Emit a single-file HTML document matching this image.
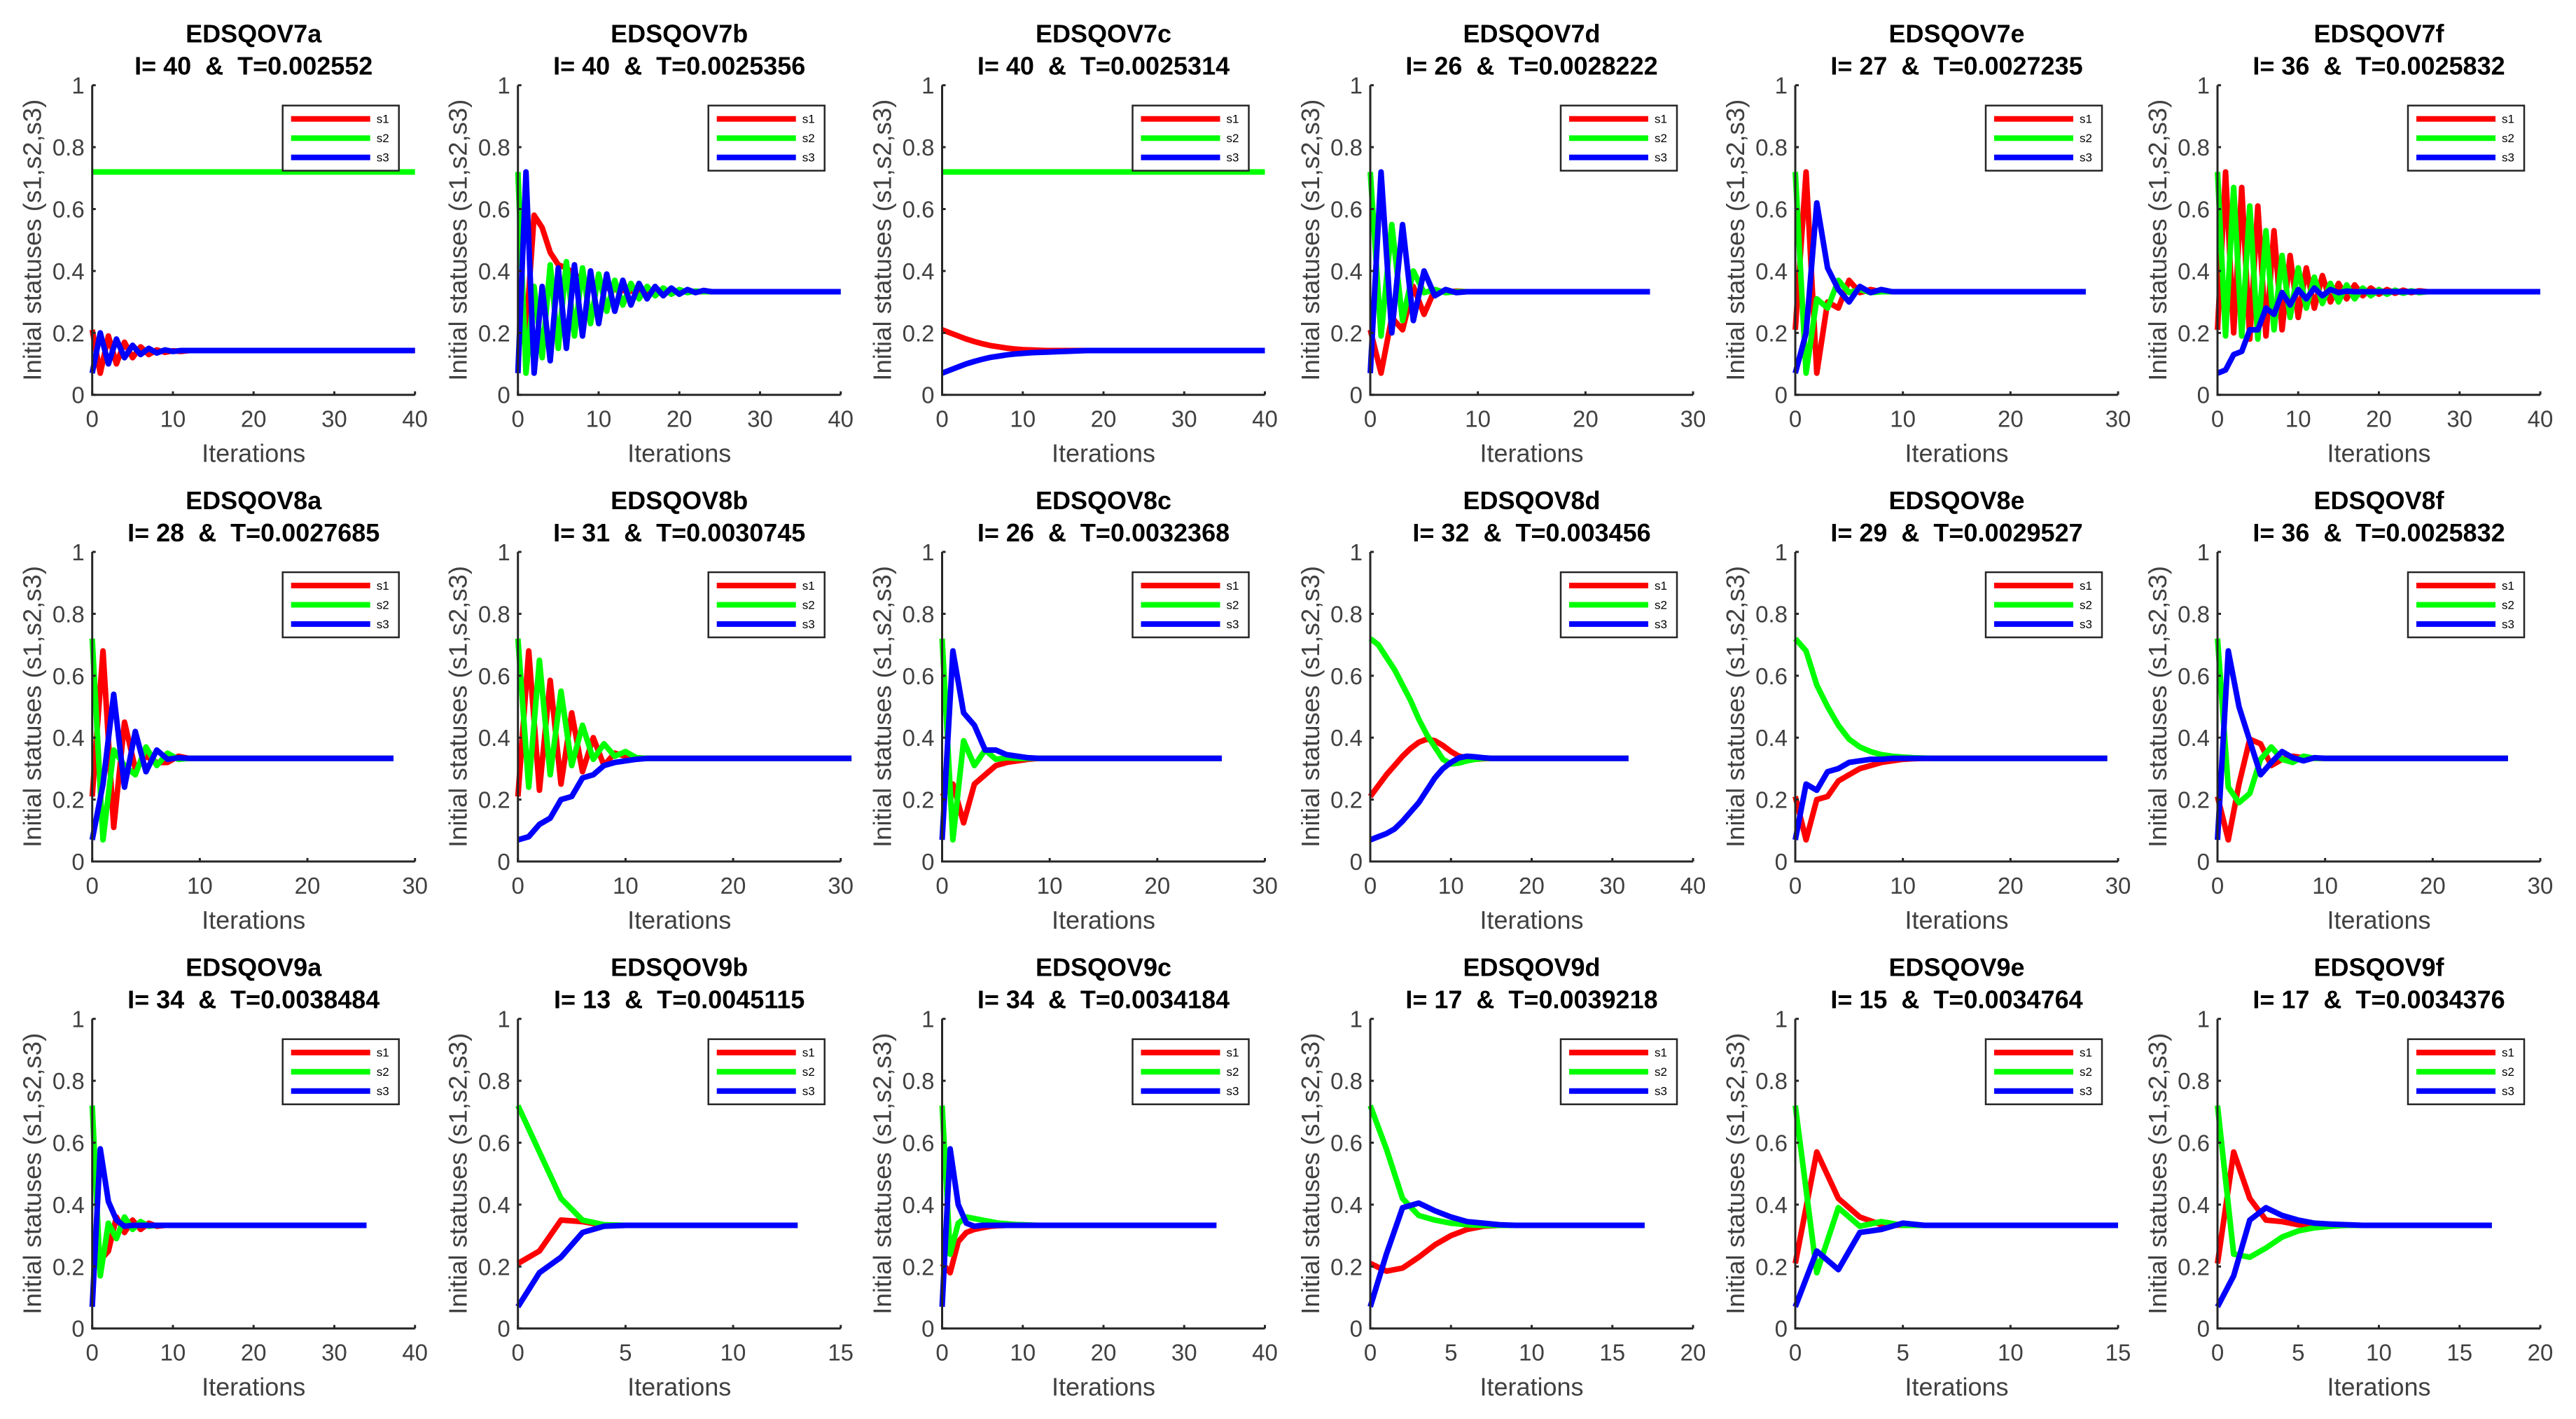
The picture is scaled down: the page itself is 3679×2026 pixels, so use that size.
<!DOCTYPE html>
<html>
<head>
<meta charset="utf-8">
<style>
  html, body { margin: 0; padding: 0; background: #ffffff; }
  svg { display: block; }
  text { font-family: "Liberation Sans", Arial, sans-serif; white-space: pre; }
</style>
</head>
<body>
<svg id="fig" width="3679" height="2026" viewBox="0 0 3679 2026" xmlns="http://www.w3.org/2000/svg">
  <rect x="0" y="0" width="3679" height="2026" fill="#ffffff"/>
</svg>
<script>
// ---- chart data ----
const panelNames = ["EDSQOV7a","EDSQOV7b","EDSQOV7c","EDSQOV7d","EDSQOV7e","EDSQOV7f",
                    "EDSQOV8a","EDSQOV8b","EDSQOV8c","EDSQOV8d","EDSQOV8e","EDSQOV8f",
                    "EDSQOV9a","EDSQOV9b","EDSQOV9c","EDSQOV9d","EDSQOV9e","EDSQOV9f"];
const iterCounts = [40,40,40,26,27,36, 28,31,26,32,29,36, 34,13,34,17,15,17];
const tValues = ["0.002552","0.0025356","0.0025314","0.0028222","0.0027235","0.0025832",
                 "0.0027685","0.0030745","0.0032368","0.003456","0.0029527","0.0025832",
                 "0.0038484","0.0045115","0.0034184","0.0039218","0.0034764","0.0034376"];
const xAxisMax = [40,40,40,30,30,40, 30,30,30,40,30,30, 40,15,40,20,15,20];
const lastIteration = [40,40,40,26,27,40, 28,31,26,32,29,27, 34,13,34,17,15,17];
const yTickLabels = ["0","0.2","0.4","0.6","0.8","1"];
const yTickValues = [0,0.2,0.4,0.6,0.8,1];
const legendLabels = ["s1","s2","s3"];

const s1Series = [
  [0.21,0.07,0.19,0.10,0.17,0.12,0.155,0.13,0.145,0.137,0.142,0.14,0.143],
  [0.21,0.20,0.58,0.54,0.46,0.42,0.41,0.39,0.37,0.36,0.35,0.345,0.34,0.337,0.335,0.334,0.333],
  [0.21,0.20,0.19,0.18,0.172,0.165,0.159,0.155,0.151,0.148,0.146,0.145,0.144,0.143],
  [0.21,0.07,0.25,0.21,0.35,0.26,0.34,0.33,0.335,0.333],
  [0.21,0.72,0.07,0.30,0.28,0.37,0.33,0.34,0.333],
  [0.21,0.72,0.20,0.67,0.18,0.61,0.19,0.53,0.21,0.45,0.25,0.41,0.28,0.385,0.30,0.36,0.31,0.355,0.32,0.345,0.325,0.34,0.328,0.338,0.33,0.336,0.333],
  [0.21,0.68,0.11,0.45,0.30,0.34,0.32,0.32,0.34,0.333],
  [0.21,0.68,0.23,0.585,0.25,0.48,0.29,0.40,0.31,0.35,0.34,0.335,0.333],
  [0.21,0.25,0.125,0.25,0.28,0.31,0.32,0.325,0.33,0.333],
  [0.21,0.245,0.28,0.31,0.34,0.365,0.385,0.395,0.39,0.375,0.355,0.34,0.335,0.33,0.332,0.333],
  [0.21,0.07,0.20,0.21,0.26,0.28,0.30,0.31,0.32,0.325,0.33,0.332,0.333],
  [0.21,0.07,0.25,0.395,0.38,0.31,0.33,0.34,0.335,0.333],
  [0.21,0.22,0.25,0.36,0.31,0.35,0.32,0.34,0.33,0.333],
  [0.21,0.25,0.35,0.345,0.333],
  [0.21,0.18,0.28,0.31,0.32,0.325,0.33,0.332,0.333],
  [0.21,0.185,0.195,0.23,0.27,0.30,0.32,0.33,0.333],
  [0.21,0.57,0.42,0.36,0.335,0.333],
  [0.21,0.57,0.42,0.35,0.345,0.335,0.333]
];
const s2Series = [
  [0.72],
  [0.72,0.07,0.35,0.12,0.42,0.15,0.43,0.19,0.41,0.23,0.39,0.27,0.37,0.29,0.36,0.31,0.35,0.32,0.345,0.325,0.34,0.33,0.335,0.333],
  [0.72],
  [0.72,0.19,0.55,0.24,0.40,0.33,0.34,0.33,0.333],
  [0.72,0.07,0.31,0.28,0.37,0.33,0.34,0.33,0.333],
  [0.72,0.19,0.67,0.19,0.61,0.18,0.53,0.21,0.45,0.25,0.41,0.28,0.38,0.295,0.36,0.30,0.355,0.31,0.345,0.32,0.34,0.325,0.338,0.328,0.336,0.33,0.333],
  [0.72,0.07,0.36,0.31,0.28,0.37,0.31,0.35,0.33,0.333],
  [0.72,0.24,0.65,0.28,0.55,0.31,0.44,0.33,0.38,0.34,0.355,0.335,0.333],
  [0.72,0.07,0.39,0.31,0.36,0.33,0.335,0.333],
  [0.72,0.70,0.66,0.62,0.57,0.52,0.46,0.41,0.37,0.33,0.315,0.318,0.325,0.33,0.333],
  [0.72,0.68,0.57,0.50,0.44,0.395,0.37,0.355,0.345,0.34,0.337,0.335,0.334,0.333],
  [0.72,0.24,0.19,0.22,0.33,0.37,0.33,0.32,0.34,0.333],
  [0.72,0.17,0.34,0.29,0.36,0.32,0.345,0.33,0.333],
  [0.72,0.57,0.42,0.35,0.335,0.333],
  [0.72,0.24,0.34,0.36,0.355,0.35,0.345,0.34,0.338,0.336,0.335,0.334,0.333],
  [0.72,0.58,0.42,0.365,0.35,0.34,0.335,0.333],
  [0.72,0.18,0.39,0.33,0.345,0.333],
  [0.72,0.24,0.23,0.26,0.295,0.315,0.325,0.33,0.333]
];
const s3Series = [
  [0.07,0.20,0.10,0.18,0.12,0.16,0.13,0.15,0.135,0.145,0.14,0.143],
  [0.07,0.72,0.07,0.35,0.11,0.41,0.15,0.42,0.19,0.40,0.23,0.39,0.27,0.37,0.29,0.36,0.31,0.35,0.32,0.345,0.325,0.34,0.33,0.337,0.333],
  [0.07,0.08,0.09,0.10,0.108,0.115,0.121,0.125,0.129,0.132,0.134,0.136,0.137,0.138,0.139,0.14,0.141,0.142,0.143],
  [0.07,0.72,0.20,0.55,0.24,0.40,0.32,0.34,0.33,0.333],
  [0.07,0.20,0.62,0.41,0.34,0.30,0.35,0.33,0.34,0.333],
  [0.07,0.08,0.13,0.14,0.21,0.21,0.28,0.26,0.33,0.29,0.34,0.31,0.345,0.32,0.34,0.33,0.335,0.333],
  [0.07,0.25,0.54,0.24,0.42,0.29,0.36,0.33,0.335,0.333],
  [0.07,0.08,0.12,0.14,0.20,0.21,0.27,0.28,0.31,0.32,0.325,0.33,0.333],
  [0.07,0.68,0.48,0.44,0.36,0.36,0.345,0.34,0.335,0.333],
  [0.07,0.08,0.09,0.105,0.13,0.16,0.19,0.23,0.27,0.30,0.32,0.335,0.34,0.338,0.335,0.333],
  [0.07,0.25,0.23,0.29,0.30,0.32,0.325,0.33,0.33,0.333],
  [0.07,0.68,0.50,0.39,0.28,0.32,0.355,0.335,0.325,0.335,0.333],
  [0.07,0.58,0.41,0.35,0.33,0.333],
  [0.07,0.18,0.23,0.31,0.33,0.333],
  [0.07,0.58,0.40,0.34,0.33,0.333],
  [0.07,0.24,0.39,0.405,0.38,0.36,0.345,0.34,0.335,0.333],
  [0.07,0.25,0.19,0.31,0.32,0.34,0.333],
  [0.07,0.17,0.35,0.39,0.365,0.35,0.34,0.337,0.335,0.333]
];
const seriesColors = ["#ff0000","#00ff00","#0000ff"];

// ---- layout ----
const colLefts = [131.7, 739.7, 1345.5, 1957, 2564, 3167];
const rowTops = [121.7, 788, 1454.7];
const axW = 461, axH = 442;
const NS = "http://www.w3.org/2000/svg";
const svg = document.getElementById("fig");

function mk(tag, attrs, parent) {
  const e = document.createElementNS(NS, tag);
  for (const k in attrs) e.setAttribute(k, attrs[k]);
  (parent || svg).appendChild(e);
  return e;
}

for (let p = 0; p < 18; p++) {
  const L = colLefts[p % 6], T = rowTops[Math.floor(p / 6)];
  const B = T + axH, R = L + axW;
  const xmax = xAxisMax[p];
  const xs = v => L + v / xmax * axW;
  const ys = v => B - v * axH;

  const g = mk("g", {});
  
  

  const t1 = mk("text", {x: L + axW/2, y: T - 61, "text-anchor": "middle", "font-size": 36, "font-weight": "bold", fill: "#000"}, g);
  t1.textContent = panelNames[p];
  
  
  const t2 = mk("text", {x: L + axW/2, y: T - 15, "text-anchor": "middle", "font-size": 36, "font-weight": "bold", fill: "#000"}, g);
  t2.textContent = "I= " + iterCounts[p] + "  &  T=" + tValues[p];
  
  

  const seriesSets = [s1Series[p], s2Series[p], s3Series[p]];
  for (let s = 0; s < 3; s++) {
    const vals = seriesSets[s];
    const pts = vals.map((v, i) => xs(i).toFixed(1) + "," + ys(v).toFixed(1));
    pts.push(xs(lastIteration[p]).toFixed(1) + "," + ys(vals[vals.length - 1]).toFixed(1));
    const pl = mk("polyline", {points: pts.join(" "), fill: "none", stroke: seriesColors[s], "stroke-width": 8, "stroke-linejoin": "round"}, g);
    
    
  }

  const ax = mk("path", {d: `M${L},${T} L${L},${B} L${R},${B}`, fill: "none", stroke: "#262626", "stroke-width": 3}, g);
  
  

  for (let i = 0; i < yTickValues.length; i++) {
    const y = ys(yTickValues[i]);
    const tk = mk("line", {x1: L, x2: L + 5, y1: y, y2: y, stroke: "#262626", "stroke-width": 3}, g);
    
    
    const tl = mk("text", {x: L - 11, y: y + 12, "text-anchor": "end", "font-size": 33, fill: "#404040"}, g);
    tl.textContent = yTickLabels[i];
    
    
  }
  const step = xmax <= 20 ? 5 : 10;
  for (let v = 0; v <= xmax; v += step) {
    const x = xs(v);
    const tk = mk("line", {x1: x, x2: x, y1: B, y2: B - 5, stroke: "#262626", "stroke-width": 3}, g);
    
    
    const tl = mk("text", {x: x, y: B + 46, "text-anchor": "middle", "font-size": 33, fill: "#404040"}, g);
    tl.textContent = String(v);
    
    
  }
  const xl = mk("text", {x: L + axW/2, y: B + 96, "text-anchor": "middle", "font-size": 36, fill: "#404040"}, g);
  xl.textContent = "Iterations";
  
  
  const yl = mk("text", {x: 0, y: 0, "text-anchor": "middle", "font-size": 36, fill: "#404040", transform: `translate(${L - 73},${T + axH/2}) rotate(-90)`, textLength: 402, lengthAdjust: "spacingAndGlyphs"}, g);
  yl.textContent = "Initial statuses (s1,s2,s3)";
  
  

  const lg = mk("g", {}, g);
  
  
  const lx = L + 272, ly = T + 29;
  const lb = mk("rect", {x: lx, y: ly, width: 166, height: 93, fill: "#ffffff", stroke: "#262626", "stroke-width": 2.5}, lg);
  
  
  const rowOff = [19, 46.5, 74];
  for (let s = 0; s < 3; s++) {
    const ln = mk("line", {x1: lx + 12, x2: lx + 125, y1: ly + rowOff[s], y2: ly + rowOff[s], stroke: seriesColors[s], "stroke-width": 8}, lg);
    
    
    const lt = mk("text", {x: lx + 134, y: ly + rowOff[s] + 6, "font-size": 17, fill: "#000"}, lg);
    lt.textContent = legendLabels[s];
    
    
  }
}
</script>
</body>
</html>
